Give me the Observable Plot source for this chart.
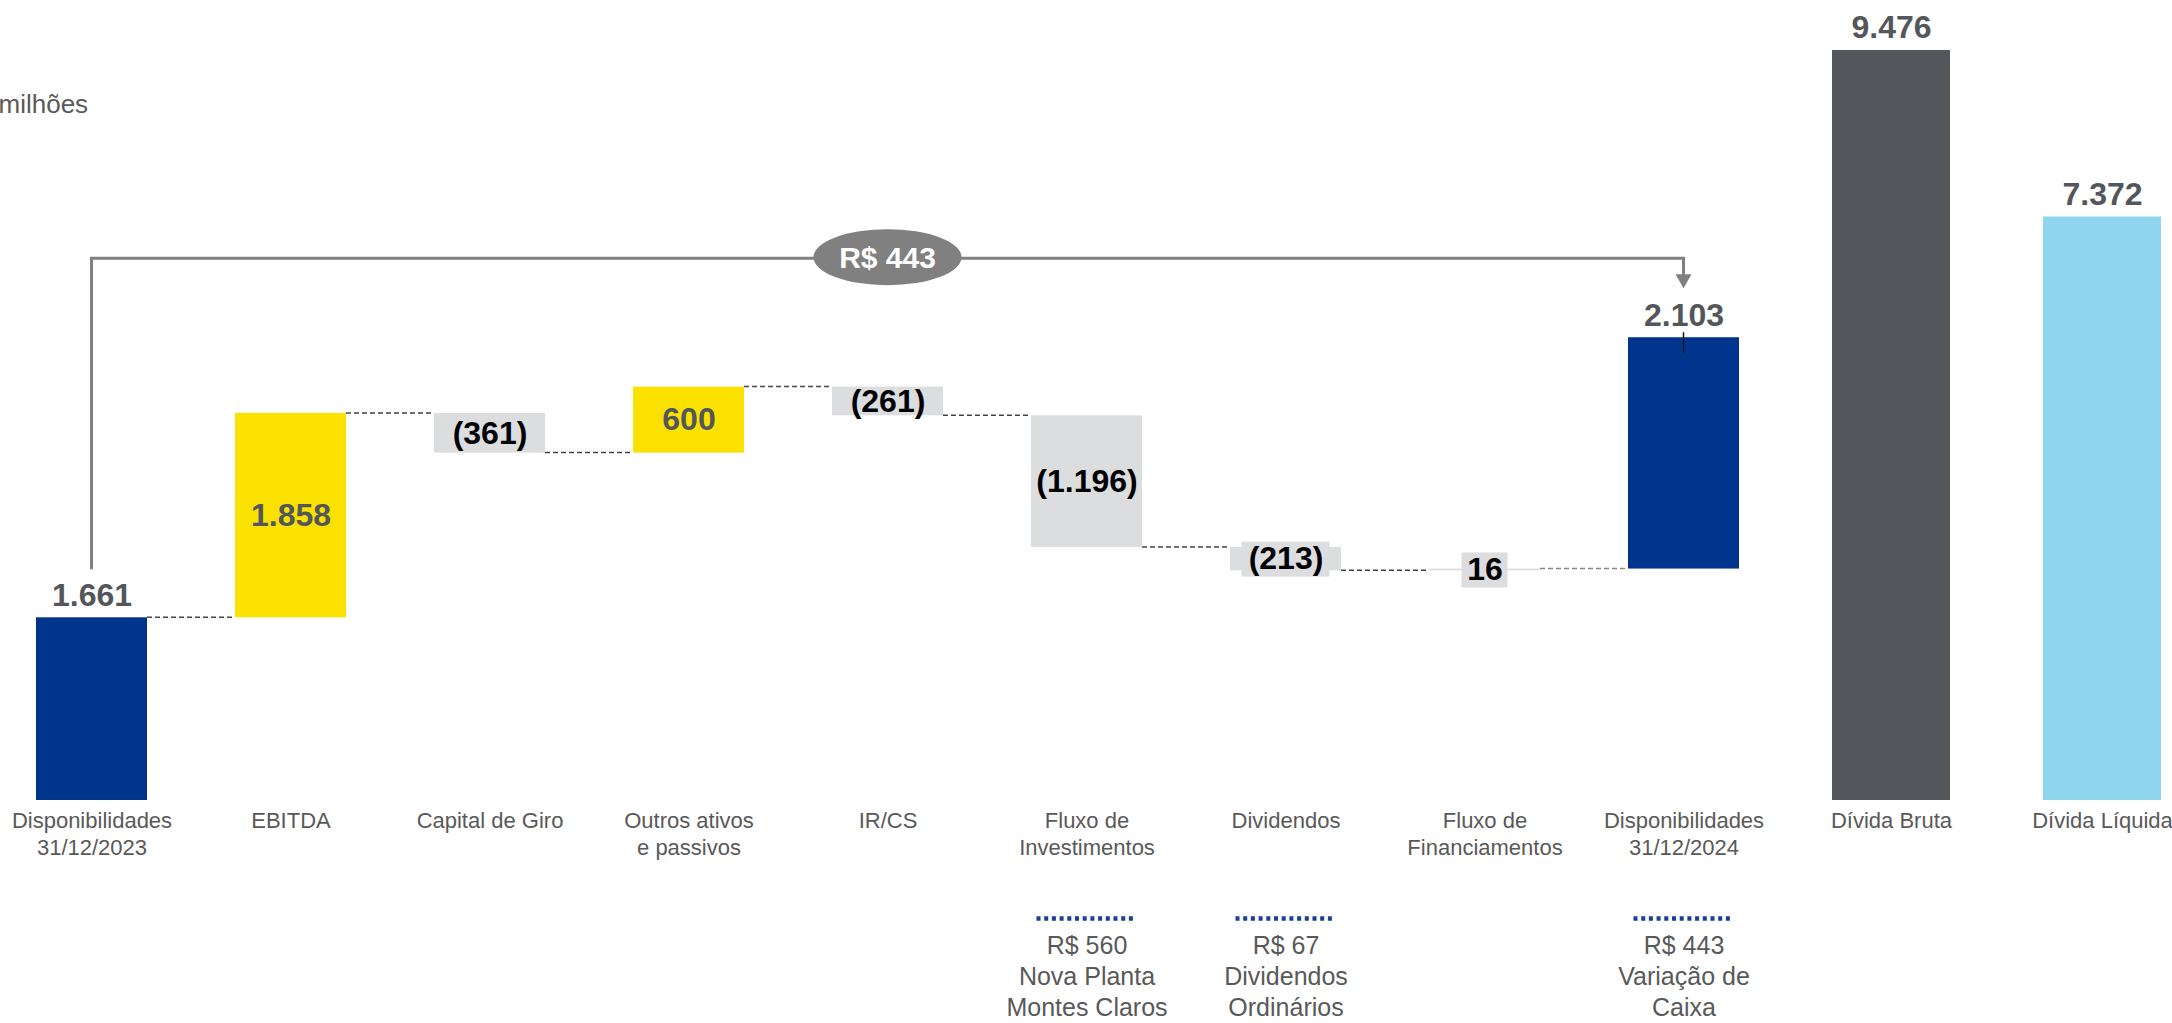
<!DOCTYPE html>
<html>
<head>
<meta charset="utf-8">
<script src="https://cdn.jsdelivr.net/npm/d3@7"></script>
<script src="https://cdn.jsdelivr.net/npm/@observablehq/plot@0.6"></script>
<style>
  html, body { margin: 0; padding: 0; background: #fff; }
  #wrap { position: relative; width: 2172px; height: 1023px; overflow: hidden; background: #fff;
          font-family: "Liberation Sans", Arial, sans-serif; }
  #wf { position: absolute; left: 0; top: 0; width: 1776px; }
  #debt { position: absolute; left: 1776px; top: 0; width: 396px; }
  svg { overflow: visible; }
</style>
</head>
<body>
<div id="wrap"><div id="wf"></div><div id="debt"></div></div>
<script>
// ---------- data ----------
const unidade = "milhões";
const categorias = [
  "Disponibilidades\n31/12/2023", "EBITDA", "Capital de Giro", "Outros ativos\ne passivos",
  "IR/CS", "Fluxo de\nInvestimentos", "Dividendos", "Fluxo de\nFinanciamentos",
  "Disponibilidades\n31/12/2024"
];
const valores = [1661, 1858, -361, 600, -261, -1196, -213, 16, 2103];
const tipos = ["total", "alta", "queda", "alta", "queda", "queda", "queda", "neutro", "total"];
const variacaoCaixa = 443;

const notasCategorias = ["Fluxo de\nInvestimentos", "Dividendos", "Disponibilidades\n31/12/2024"];
const notasTextos = ["R$ 560\nNova Planta\nMontes Claros", "R$ 67\nDividendos\nOrdinários", "R$ 443\nVariação de\nCaixa"];

const dividaCategorias = ["Dívida Bruta", "Dívida Líquida"];
const dividaValores = [9476, 7372];

// ---------- styles ----------
const cores = { total: "#00358e", alta: "#fbe100", queda: "#dcdddf", neutro: "#dcdddf" };
const coresDivida = ["#53565a", "#8fd5ee"];
const cinzaTexto = "#53565a";
const cinzaEixo = "#595959";
const FONT = "Liberation Sans, Arial, sans-serif";

// ---------- formatting ----------
const br = d3.formatLocale({ decimal: ",", thousands: ".", grouping: [3], currency: ["R$ ", ""] });
const fmt = br.format(",d");
const rotulo = v => v < 0 ? `(${fmt(-v)})` : fmt(v);

// ---------- waterfall rows ----------
let acum = 0;
const linhas = categorias.map((cat, i) => {
  const v = valores[i], tipo = tipos[i];
  let y1, y2;
  if (i === 0) { y1 = 0; y2 = v; acum = v; }
  else if (tipo === "total") { y1 = acum; y2 = acum + v; }
  else { y1 = acum; y2 = acum + v; acum += v; }
  return { cat, valor: v, tipo, y1, y2, meio: (y1 + y2) / 2, topo: Math.max(y1, y2), nivel: acum };
});
const notas = notasCategorias.map((cat, i) => ({ cat, texto: notasTextos[i] }));

const bwOf = x => typeof x.bandwidth === "function" ? x.bandwidth() : (x.bandwidth || 0);

function conectores(index, scales) {
  const x = scales.x, y = scales.y, bw = bwOf(x);
  const g = d3.create("svg:g").attr("fill", "none").attr("stroke", "#454545")
    .attr("stroke-width", 1.5).attr("stroke-dasharray", "5,3");
  for (let i = 0; i < linhas.length - 1; i++) {
    const yy = y(linhas[i].nivel);
    g.append("line").attr("x1", x(linhas[i].cat) + bw).attr("x2", x(linhas[i + 1].cat))
      .attr("y1", yy).attr("y2", yy)
      .attr("stroke", i === linhas.length - 2 ? "#8a8a8a" : null);
  }
  return g.node();
}

function colchete(index, scales) {
  const x = scales.x, y = scales.y, bw = bwOf(x);
  const primeiro = linhas[0], final = linhas[linhas.length - 1];
  const xa = x(primeiro.cat) + bw / 2, xb = x(final.cat) + bw / 2;
  const yTop = y(final.topo);
  const yBr = yTop - 79, yStart = y(primeiro.topo) - 48, yTip = yTop - 49;
  const g = d3.create("svg:g");
  g.append("path").attr("d", `M${xa},${yStart}V${yBr}H${xb}V${yTip - 12}`)
    .attr("fill", "none").attr("stroke", "#808080").attr("stroke-width", 3);
  g.append("path").attr("d", `M${xb - 8},${yTip - 14}L${xb + 8},${yTip - 14}L${xb},${yTip}Z`).attr("fill", "#808080");
  const xm = (xa + xb) / 2;
  g.append("ellipse").attr("cx", xm).attr("cy", yBr - 1).attr("rx", 74).attr("ry", 28).attr("fill", "#808080");
  g.append("text").attr("x", xm).attr("y", yBr - 1).attr("dy", "0.36em").attr("text-anchor", "middle")
    .attr("fill", "#fff").attr("font-weight", "bold").attr("font-size", 30).attr("font-family", FONT)
    .text("R$ " + fmt(variacaoCaixa));
  // small tick on top of final bar
  g.append("line").attr("x1", xb).attr("x2", xb).attr("y1", yTop - 5).attr("y2", yTop + 16)
    .attr("stroke", "#1a1a1a").attr("stroke-width", 1.5);
  return g.node();
}

// label background boxes for thin bars
const BW = 111;
const caixas = linhas.filter(d => d.tipo !== "total" && Math.abs(d.valor) < 250).map(d => {
  const w = rotulo(d.valor).length * 14 + 18;
  return Plot.barY([d], { x: "cat", y1: "meio", y2: "meio", fill: cores[d.tipo],
    insetLeft: (BW - w) / 2, insetRight: (BW - w) / 2, insetTop: -17, insetBottom: -18 });
});

const wf = Plot.plot({
  width: 1776, height: 1023,
  marginLeft: 0, marginRight: 0, marginTop: 30, marginBottom: 223,
  style: { background: "#fff", overflow: "visible", fontFamily: FONT, color: cinzaEixo },
  x: { domain: categorias, range: [-7.5, 1783.5], paddingInner: 0.442, paddingOuter: 0.221, axis: null },
  y: { domain: [0, 7000], range: [800, 30], axis: null },
  color: { type: "identity" },
  marks: [
    conectores,
    Plot.barY(linhas, { x: "cat", y1: "y1", y2: "y2", fill: d => cores[d.tipo] }),
    ...caixas,
    Plot.text(linhas.filter(d => d.tipo !== "total"), {
      x: "cat", y: "meio", text: d => rotulo(d.valor),
      fill: d => (d.valor < 0 || d.tipo === "neutro") ? "#000" : cinzaTexto,
      fontSize: 32, fontWeight: "bold", lineAnchor: "middle"
    }),
    Plot.text(linhas.filter(d => d.tipo === "total"), {
      x: "cat", y: "topo", text: d => rotulo(d.valor), fill: cinzaTexto,
      fontSize: 32, fontWeight: "bold", lineAnchor: "bottom", dy: -12
    }),
    colchete,
    Plot.text(categorias, {
      x: d => d, text: d => d, frameAnchor: "bottom", lineAnchor: "top", dy: 9,
      fontSize: 22, lineHeight: 1.2, fill: cinzaEixo
    }),
    Plot.tickY(notas, {
      x: "cat", y: () => 0, dy: 118, insetLeft: 5.5, insetRight: 5.5,
      stroke: "#1c3f94", strokeWidth: 4.5, strokeDasharray: "4,3.7"
    }),
    Plot.text(notas, {
      x: "cat", text: "texto", frameAnchor: "bottom", lineAnchor: "top", dy: 131,
      fontSize: 25, lineHeight: 1.24, fill: cinzaEixo
    }),
    Plot.text([unidade], {
      text: d => d, frameAnchor: "top-left", textAnchor: "start", lineAnchor: "middle",
      dx: -2, dy: 74, fontSize: 26, fill: cinzaEixo
    })
  ]
});
document.getElementById("wf").append(wf);

const linhasDivida = dividaCategorias.map((cat, i) => ({ cat, valor: dividaValores[i], cor: coresDivida[i] }));
const debt = Plot.plot({
  width: 396, height: 1023,
  marginLeft: 0, marginRight: 0, marginTop: 30, marginBottom: 223,
  style: { background: "transparent", overflow: "visible", fontFamily: FONT, color: cinzaEixo },
  x: { domain: dividaCategorias, range: [9.5, 431.5], paddingInner: 0.441, paddingOuter: 0.2205, axis: null },
  y: { domain: [0, 10000], range: [800, 8.5], axis: null },
  color: { type: "identity" },
  marks: [
    Plot.barY(linhasDivida, { x: "cat", y: "valor", fill: "cor" }),
    Plot.text(linhasDivida, {
      x: "cat", y: "valor", text: d => rotulo(d.valor), fill: cinzaTexto,
      fontSize: 32, fontWeight: "bold", lineAnchor: "bottom", dy: -12
    }),
    Plot.text(dividaCategorias, {
      x: d => d, text: d => d, frameAnchor: "bottom", lineAnchor: "top", dy: 9,
      fontSize: 22, lineHeight: 1.2, fill: cinzaEixo
    })
  ]
});
document.getElementById("debt").append(debt);
</script>
</body>
</html>
